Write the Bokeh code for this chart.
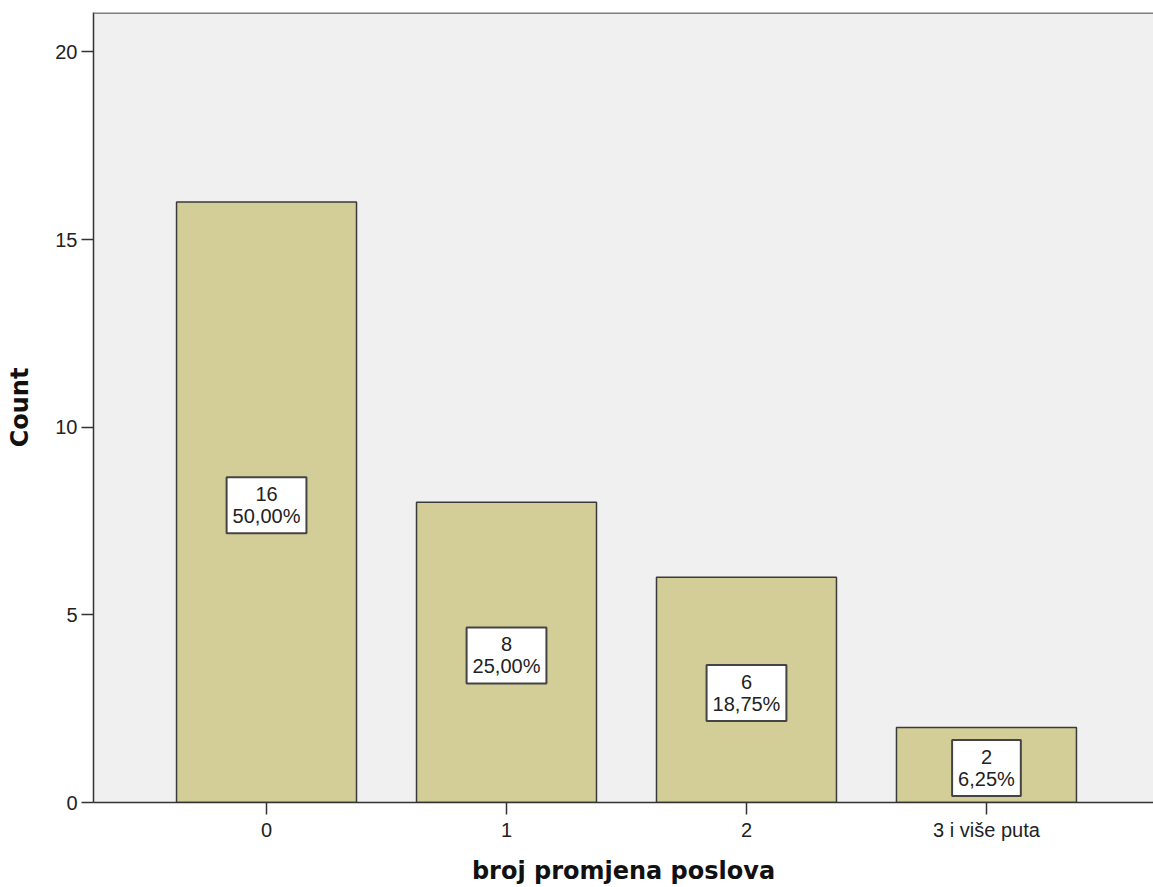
from bokeh.plotting import figure
from bokeh.models import ColumnDataSource, Span, FixedTicker, Range1d
from bokeh.core.properties import value
from bokeh.embed import file_html
from bokeh.resources import INLINE

categories = ["0", "1", "2", "3 i više puta"]
counts = [16, 8, 6, 2]
percents = ["50,00%", "25,00%", "18,75%", "6,25%"]
y_ticks = [0, 5, 10, 15, 20]

xs = list(range(len(categories)))
labels = [f"{c}\n{p}" for c, p in zip(counts, percents)]
src = ColumnDataSource(dict(x=xs, top=counts, mid=[c / 2 for c in counts], label=labels))

p = figure(width=1153, height=887, output_backend="svg", toolbar_location=None,
           x_range=Range1d(-0.721, 3.696), y_range=Range1d(0, 21.05),
           min_border_left=93, min_border_top=12, min_border_right=0, min_border_bottom=84)

p.background_fill_color = "#f0f0f0"
p.border_fill_color = "white"
p.outline_line_color = None
p.xgrid.grid_line_color = None
p.ygrid.grid_line_color = None

p.vbar(x="x", top="top", width=0.75, bottom=0, source=src,
       fill_color="#d3ce97", line_color="#3a3a3a", line_width=1.5)

p.text(x="x", y="mid", text="label", source=src, y_offset=3,
       text_align="center", text_baseline="middle", text_line_height=1.0,
       text_font=value("Liberation Sans"), text_font_size="20px", text_color="#222222",
       padding=6, background_fill_color="white", border_line_color="#444444",
       border_line_width=2)

top_line = Span(location=21.05, dimension="width", line_color="#808080", line_width=3)
p.add_layout(top_line)

p.xaxis.ticker = FixedTicker(ticks=xs)
p.xaxis.major_label_overrides = {i: c for i, c in zip(xs, categories)}
p.yaxis.ticker = FixedTicker(ticks=y_ticks)

for ax in (p.xaxis[0], p.yaxis[0]):
    ax.axis_line_color = "#333333"
    ax.axis_line_width = 1.5
    ax.major_tick_line_color = "#333333"
    ax.major_tick_line_width = 1.5
    ax.major_tick_out = 12
    ax.major_tick_in = 0
    ax.minor_tick_line_color = None
    ax.major_label_standoff = 4
    ax.major_label_text_font = "Liberation Sans"
    ax.major_label_text_font_size = "20px"
    ax.major_label_text_color = "#222222"
    ax.axis_label_text_font = "DejaVu Sans"
    ax.axis_label_text_font_style = "bold"
    ax.axis_label_text_font_size = "24px"
    ax.axis_label_text_color = "#111111"

p.xaxis.axis_label = "broj promjena poslova"
p.yaxis.axis_label = "Count"
p.xaxis.axis_label_standoff = 13
p.yaxis.axis_label_standoff = 18

open("out.html", "w").write(file_html(p, INLINE))
